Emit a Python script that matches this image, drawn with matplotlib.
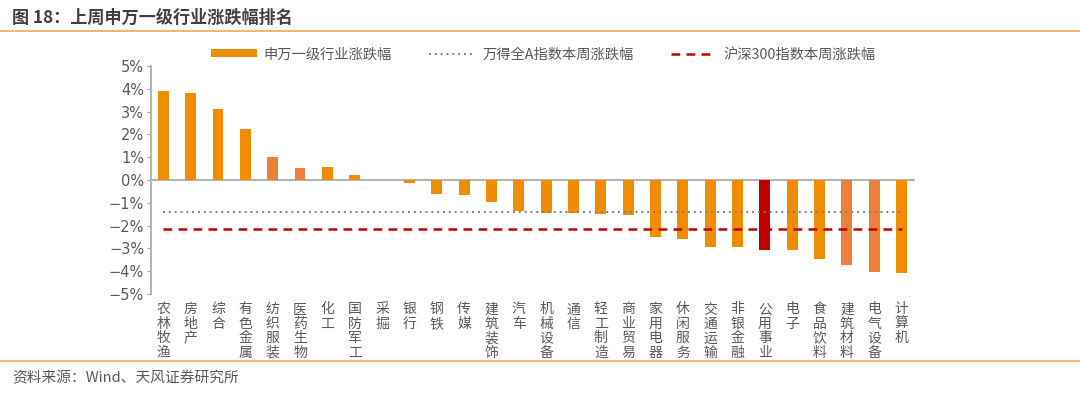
import matplotlib
matplotlib.use("Agg")
import matplotlib.pyplot as plt
from matplotlib.lines import Line2D
from matplotlib.patches import Patch
import numpy as np

plt.rcParams["font.family"] = ["Noto Sans CJK SC", "DejaVu Sans"]
plt.rcParams["axes.unicode_minus"] = False

# 申万一级行业 本周涨跌幅 (%)
industries = ["农林牧渔", "房地产", "综合", "有色金属", "纺织服装", "医药生物", "化工",
              "国防军工", "采掘", "银行", "钢铁", "传媒", "建筑装饰", "汽车", "机械设备",
              "通信", "轻工制造", "商业贸易", "家用电器", "休闲服务", "交通运输", "非银金融",
              "公用事业", "电子", "食品饮料", "建筑材料", "电气设备", "计算机"]
changes = [3.92, 3.83, 3.11, 2.22, 1.02, 0.54, 0.57, 0.21, 0.0, -0.12, -0.61, -0.66,
           -0.95, -1.36, -1.43, -1.43, -1.51, -1.55, -2.51, -2.60, -2.92, -2.92,
           -3.08, -3.08, -3.45, -3.73, -4.05, -4.09]
wind_all_a = -1.42
hs300 = -2.13

ORANGE = "#F08C00"
LIGHT = "#EC8038"
RED = "#C00000"
light_set = {"纺织服装", "医药生物", "建筑材料", "电气设备"}
colors = []
for name in industries:
    if name == "公用事业":
        colors.append(RED)
    elif name in light_set:
        colors.append(LIGHT)
    else:
        colors.append(ORANGE)

TXT = "#595959"

fig = plt.figure(figsize=(10.8, 3.94), dpi=100)
ax = fig.add_axes([0.1398, 0.2538, 0.7072, 0.5787])

x = np.arange(len(industries))
ax.bar(x, changes, width=0.4, color=colors, zorder=2)
ax.axhline(0, color="#A6A6A6", linewidth=1.2, zorder=1)
ax.plot([x[0], x[-1]], [wind_all_a] * 2, linestyle=(0, (1, 2)), color="#7F7F7F",
        linewidth=1.4, zorder=3)
ax.plot([x[0], x[-1]], [hs300] * 2, linestyle=(0, (3.5, 2.5)), color=RED,
        linewidth=1.8, zorder=3)

ax.set_xlim(-0.45, len(industries) - 0.52)
ax.set_ylim(-5, 5)
ax.set_yticks(range(-5, 6))
ax.set_yticklabels([f"{v}%".replace("-", "−") for v in range(-5, 6)],
                   fontsize=10.5, color=TXT, family=["DejaVu Sans"])
ax.tick_params(axis="y", length=3, color="#A6A6A6", pad=2)
ax.set_xticks([])
for s in ["top", "right", "bottom"]:
    ax.spines[s].set_visible(False)
ax.spines["left"].set_color("#A6A6A6")
ax.spines["left"].set_linewidth(1.2)

# vertical stacked category labels
for xi, name in zip(x, industries):
    ax.annotate("\n".join(name), xy=(xi, -5), xycoords="data",
                xytext=(0, -6), textcoords="offset points",
                ha="center", va="top", fontsize=10, color=TXT, linespacing=1.05)

handles = [
    Patch(facecolor=ORANGE, label="申万一级行业涨跌幅"),
    Line2D([0], [0], linestyle=(0, (1, 2)), color="#7F7F7F", linewidth=1.4,
           label="万得全A指数本周涨跌幅"),
    Line2D([0], [0], linestyle=(0, (3.5, 2.5)), color=RED, linewidth=1.8,
           label="沪深300指数本周涨跌幅"),
]
fig.legend(handles=handles, loc="center", bbox_to_anchor=(0.503, 0.862), ncol=3,
           frameon=False, fontsize=10.3, labelcolor=TXT, handlelength=3.2,
           handleheight=0.5, columnspacing=2.6, handletextpad=0.5)

# title, rules, source
fig.text(0.011, 0.955, "图 18：上周申万一级行业涨跌幅排名", fontsize=12.3,
         fontweight="bold", color="#404040", va="center", ha="left")
fig.add_artist(Line2D([0, 1], [0.922, 0.922], color="#F4A460", linewidth=1.2))
fig.add_artist(Line2D([0, 1], [0.083, 0.083], color="#F4A460", linewidth=1.2))
fig.text(0.011, 0.04, "资料来源：Wind、天风证券研究所", fontsize=10.6, color=TXT,
         va="center", ha="left")

fig.savefig("out.png", dpi=100)
